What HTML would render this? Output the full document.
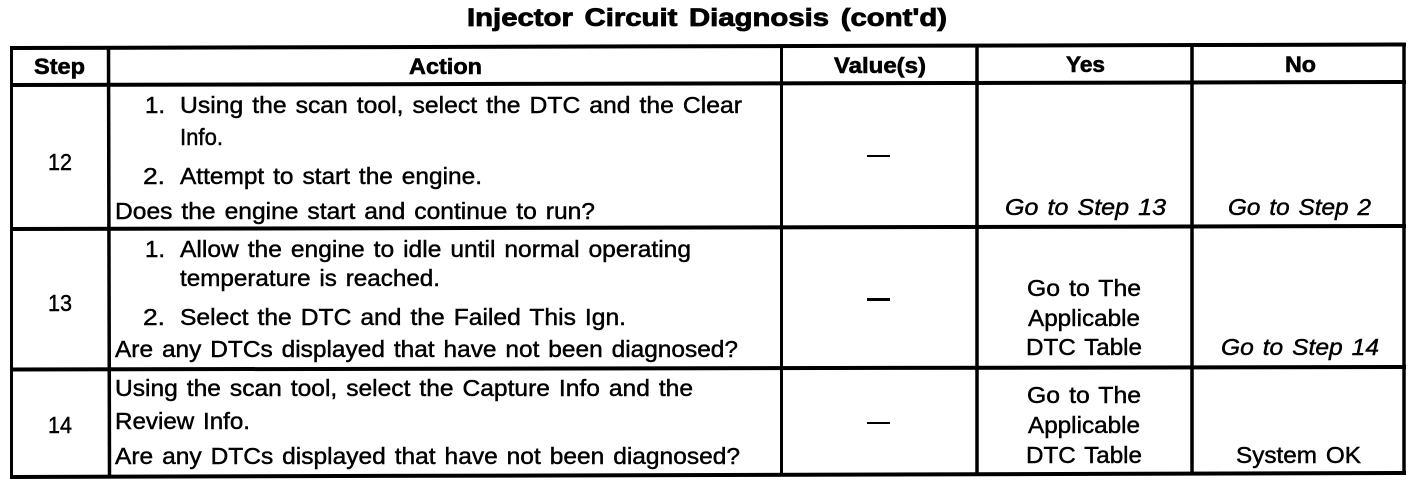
<!DOCTYPE html>
<html><head><meta charset="utf-8"><style>
html,body{margin:0;padding:0;background:#fff;width:1424px;height:486px;overflow:hidden}
svg{display:block}
text{font-family:"Liberation Sans",sans-serif;font-size:23px;fill:#000;stroke:#000;stroke-width:.45;word-spacing:2px}
.b{font-weight:bold;font-size:22px;stroke-width:.6}
.i{font-style:italic}
</style></head><body>
<svg width="1424" height="486" viewBox="0 0 1424 486" xmlns="http://www.w3.org/2000/svg">
<rect width="1424" height="486" fill="#fff"/>
<g stroke="#000" fill="none">
<line x1="10" y1="48" x2="1406" y2="44.5" stroke-width="4"/>
<line x1="10" y1="85" x2="1406" y2="82" stroke-width="4"/>
<line x1="10" y1="229" x2="1406" y2="226" stroke-width="4"/>
<line x1="10" y1="369.5" x2="1406" y2="367" stroke-width="4"/>
<line x1="10" y1="477" x2="1406" y2="473" stroke-width="4"/>
<line x1="11.5" y1="46" x2="11.5" y2="479" stroke-width="3"/>
<line x1="108.5" y1="46" x2="109.5" y2="478" stroke-width="3.5"/>
<line x1="781.5" y1="45" x2="781.5" y2="476" stroke-width="3"/>
<line x1="977" y1="45" x2="977" y2="475" stroke-width="3.5"/>
<line x1="1192" y1="44" x2="1192" y2="475" stroke-width="3.5"/>
<line x1="1404" y1="43" x2="1404" y2="475" stroke-width="3.5"/>
</g>
<g fill="#000">
<rect x="867" y="155" width="23" height="2"/>
<rect x="867" y="298" width="23" height="3"/>
<rect x="867" y="422" width="23" height="2"/>
</g>
<text class="b" style="font-size:25px;word-spacing:3px;stroke-width:.8" x="467" y="26" textLength="480" lengthAdjust="spacingAndGlyphs">Injector Circuit Diagnosis (cont'd)</text>
<text class="b" x="34" y="74" textLength="51" lengthAdjust="spacingAndGlyphs">Step</text>
<text class="b" x="409" y="74" textLength="73" lengthAdjust="spacingAndGlyphs">Action</text>
<text class="b" x="834" y="73" textLength="92" lengthAdjust="spacingAndGlyphs">Value(s)</text>
<text class="b" x="1066" y="72" textLength="39" lengthAdjust="spacingAndGlyphs">Yes</text>
<text class="b" x="1285" y="72" textLength="31" lengthAdjust="spacingAndGlyphs">No</text>

<text x="48" y="170" textLength="24" lengthAdjust="spacingAndGlyphs">12</text>
<text x="145" y="113" textLength="20" lengthAdjust="spacingAndGlyphs">1.</text>
<text x="180" y="113" textLength="562" lengthAdjust="spacingAndGlyphs">Using the scan tool, select the DTC and the Clear</text>
<text x="180" y="145" textLength="43" lengthAdjust="spacingAndGlyphs">Info.</text>
<text x="143" y="184" textLength="22" lengthAdjust="spacingAndGlyphs">2.</text>
<text x="180" y="184" textLength="302" lengthAdjust="spacingAndGlyphs">Attempt to start the engine.</text>
<text x="115" y="219" textLength="480" lengthAdjust="spacingAndGlyphs">Does the engine start and continue to run?</text>
<text class="i" x="1005" y="215" textLength="161" lengthAdjust="spacingAndGlyphs">Go to Step 13</text>
<text class="i" x="1228" y="215" textLength="143" lengthAdjust="spacingAndGlyphs">Go to Step 2</text>

<text x="48" y="311" textLength="24" lengthAdjust="spacingAndGlyphs">13</text>
<text x="145" y="257" textLength="20" lengthAdjust="spacingAndGlyphs">1.</text>
<text x="180" y="257" textLength="511" lengthAdjust="spacingAndGlyphs">Allow the engine to idle until normal operating</text>
<text x="180" y="286" textLength="260" lengthAdjust="spacingAndGlyphs">temperature is reached.</text>
<text x="143" y="325" textLength="22" lengthAdjust="spacingAndGlyphs">2.</text>
<text x="180" y="325" textLength="446" lengthAdjust="spacingAndGlyphs">Select the DTC and the Failed This Ign.</text>
<text x="115" y="357" textLength="623" lengthAdjust="spacingAndGlyphs">Are any DTCs displayed that have not been diagnosed?</text>
<text x="1027" y="296" textLength="114" lengthAdjust="spacingAndGlyphs">Go to The</text>
<text x="1028" y="326" textLength="112" lengthAdjust="spacingAndGlyphs">Applicable</text>
<text x="1026" y="355" textLength="116" lengthAdjust="spacingAndGlyphs">DTC Table</text>
<text class="i" x="1221" y="355" textLength="158" lengthAdjust="spacingAndGlyphs">Go to Step 14</text>

<text x="48" y="433" textLength="24" lengthAdjust="spacingAndGlyphs">14</text>
<text x="115" y="396" textLength="578" lengthAdjust="spacingAndGlyphs">Using the scan tool, select the Capture Info and the</text>
<text x="115" y="429" textLength="135" lengthAdjust="spacingAndGlyphs">Review Info.</text>
<text x="115" y="464" textLength="625" lengthAdjust="spacingAndGlyphs">Are any DTCs displayed that have not been diagnosed?</text>
<text x="1027" y="403" textLength="114" lengthAdjust="spacingAndGlyphs">Go to The</text>
<text x="1028" y="433" textLength="112" lengthAdjust="spacingAndGlyphs">Applicable</text>
<text x="1026" y="463" textLength="116" lengthAdjust="spacingAndGlyphs">DTC Table</text>
<text x="1236" y="463" textLength="125" lengthAdjust="spacingAndGlyphs">System OK</text>
</svg>
</body></html>
